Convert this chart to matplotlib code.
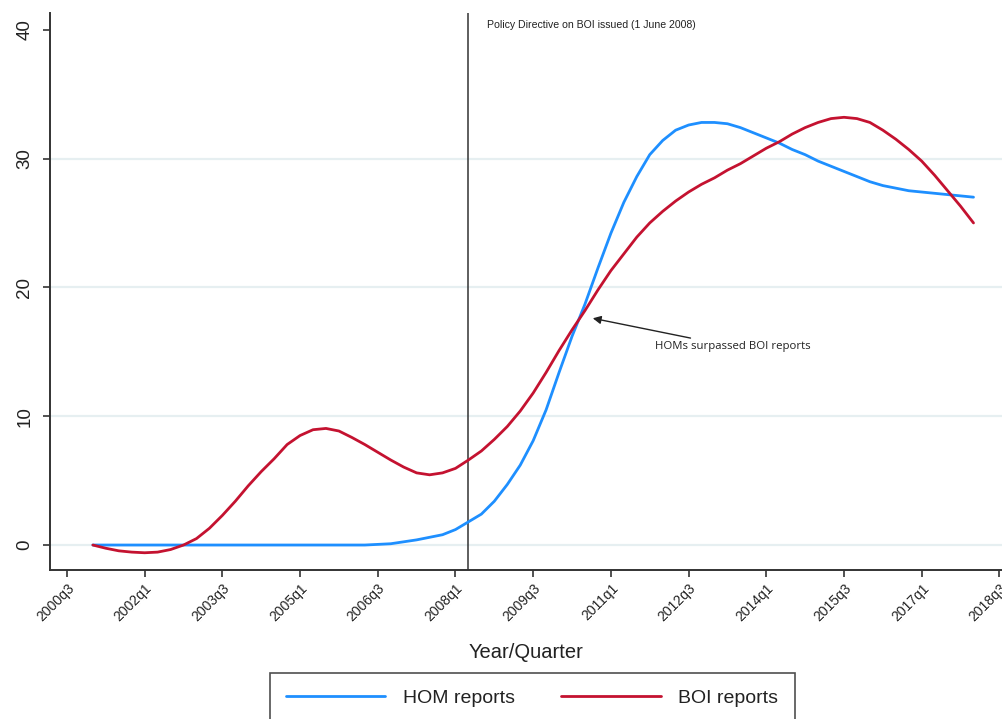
import matplotlib.pyplot as plt
import numpy as np

plt.rcParams['font.family'] = ['Liberation Sans', 'DejaVu Sans']

# quarterly axis, 2000q3 .. 2018q3
all_quarters = [f"{y}q{q}" for y in range(2000, 2019) for q in range(1, 5)]
all_quarters = all_quarters[all_quarters.index("2000q3"):all_quarters.index("2018q3") + 1]

tick_labels = ["2000q3", "2002q1", "2003q3", "2005q1", "2006q3", "2008q1", "2009q3",
               "2011q1", "2012q3", "2014q1", "2015q3", "2017q1", "2018q3"]

# series run 2001q1 .. 2018q1
first_q = "2001q1"

hom = [0.0, 0.0, 0.0, 0.0, 0.0, 0.0, 0.0, 0.0, 0.0, 0.0,
       0.0, 0.0, 0.0, 0.0, 0.0, 0.0, 0.0, 0.0, 0.0, 0.0,
       0.0, 0.0, 0.05, 0.1, 0.25, 0.4, 0.6, 0.8, 1.2, 1.8,
       2.4, 3.4, 4.7, 6.2, 8.1, 10.5, 13.4, 16.2, 18.7, 21.5,
       24.2, 26.6, 28.6, 30.3, 31.4, 32.2, 32.6, 32.8, 32.8, 32.7,
       32.4, 32.0, 31.6, 31.2, 30.7, 30.3, 29.8, 29.4, 29.0, 28.6,
       28.2, 27.9, 27.7, 27.5, 27.4, 27.3, 27.2, 27.1, 27.0]

boi = [0.0, -0.25, -0.45, -0.55, -0.6, -0.55, -0.35, 0.0, 0.5, 1.3,
       2.3, 3.4, 4.6, 5.7, 6.7, 7.8, 8.5, 8.95, 9.05, 8.85,
       8.35, 7.8, 7.2, 6.6, 6.05, 5.6, 5.45, 5.6, 5.95, 6.6,
       7.3, 8.2, 9.2, 10.4, 11.8, 13.4, 15.1, 16.7, 18.2, 19.8,
       21.3, 22.6, 23.9, 25.0, 25.9, 26.7, 27.4, 28.0, 28.5, 29.1,
       29.6, 30.2, 30.8, 31.3, 31.9, 32.4, 32.8, 33.1, 33.2, 33.1,
       32.8, 32.2, 31.5, 30.7, 29.8, 28.7, 27.5, 26.3, 25.0]

policy_q = "2008q2"
cross_q = "2010q3"

start = all_quarters.index(first_q)
x = np.arange(start, start + len(hom))

fig = plt.figure(figsize=(10.02, 7.19), dpi=100)
ax = fig.add_axes([0.0499, 0.2072, 0.9501, 0.7748])

ax.plot(x, hom, color='#1e8fff', lw=2, label='HOM reports', zorder=3,
        solid_joinstyle='round', solid_capstyle='round')
ax.plot(x, boi, color='#c41230', lw=2, label='BOI reports', zorder=3,
        solid_joinstyle='round', solid_capstyle='round')

pq = all_quarters.index(policy_q)
ax.axvline(pq, color='#333333', lw=1.1, zorder=2)
ax.text(pq + 1.4, 40.4, "Policy Directive on BOI issued (1 June 2008)",
        fontsize=7.6, va='center', ha='left', color='#222222')

cq = all_quarters.index(cross_q) + 0.6
ax.annotate("HOMs surpassed BOI reports", xy=(cq, 17.6), xytext=(cq + 4.8, 15.4),
            fontsize=8.2, family=['Open Sans', 'DejaVu Sans'], va='center', ha='left',
            color='#222222',
            arrowprops=dict(arrowstyle='-|>', color='#222222', lw=1, mutation_scale=12,
                            shrinkA=1, shrinkB=0))

ax.set_xlim(-1.31, 72.2)
ax.set_ylim(-1.94, 41.3)
ax.set_xticks([all_quarters.index(t) for t in tick_labels])
ax.set_xticklabels(tick_labels, rotation=45, ha='right', rotation_mode='anchor',
                   fontsize=10, color='#222222')
ax.set_yticks([0, 10, 20, 30, 40])
ax.set_yticklabels(['0', '10', '20', '30', '40'], rotation=90, va='center', fontsize=13.5,
                   color='#222222')
ax.tick_params(axis='both', direction='out', length=5, width=1.2, color='#333333')
ax.tick_params(axis='x', pad=3)
ax.tick_params(axis='y', pad=7)

ax.yaxis.grid(True, color='#e6eff1', lw=1.6, zorder=0)
ax.get_ygridlines()[-1].set_visible(False)
ax.set_axisbelow(True)

for s in ['top', 'right']:
    ax.spines[s].set_visible(False)
for s in ['left', 'bottom']:
    ax.spines[s].set_color('#333333')
    ax.spines[s].set_linewidth(1.4)

ax.set_xlabel("Year/Quarter", fontsize=14.5, labelpad=14, color='#222222')

leg = fig.legend(loc='upper center', bbox_to_anchor=(0.531, 0.064), ncol=2,
                 fontsize=14, frameon=True, fancybox=False, edgecolor='#222222',
                 handlelength=5.1, handletextpad=0.9, columnspacing=2.4,
                 borderpad=0.85, borderaxespad=0)
leg.get_frame().set_linewidth(1.2)
for t in leg.get_texts():
    t.set_color('#222222')

fig.savefig("out.png", dpi=100)
